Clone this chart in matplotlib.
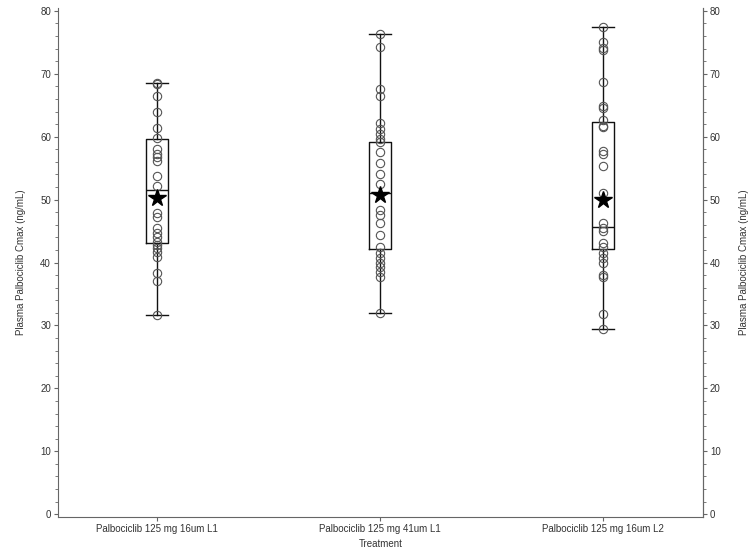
import matplotlib.pyplot as plt
from matplotlib.ticker import MultipleLocator

# ---------------------- Data --------------------------------------------------
treatments = [
    "Palbociclib 125 mg 16um L1",
    "Palbociclib 125 mg 41um L1",
    "Palbociclib 125 mg 16um L2",
]

cmax_16um_l1 = [68.6, 68.3, 66.5, 64.0, 61.4, 59.8, 58.1, 57.3, 56.8, 56.1,
                53.8, 52.2, 47.8, 47.3, 45.5, 44.7, 44.1, 43.3, 42.8, 42.3,
                41.7, 40.9, 38.3, 37.0, 31.6]
cmax_41um_l1 = [76.3, 74.3, 67.6, 66.4, 62.2, 61.2, 60.4, 59.7, 59.2, 57.5,
                55.8, 54.0, 52.4, 48.4, 47.6, 46.3, 44.4, 42.5, 41.5, 40.7,
                39.9, 39.3, 38.5, 37.7, 31.9]
cmax_16um_l2 = [77.5, 75.1, 74.1, 73.7, 68.7, 64.8, 64.5, 62.6, 61.7, 61.5,
                57.7, 57.3, 55.4, 51.0, 46.3, 45.5, 45.0, 43.1, 42.4, 41.5,
                40.7, 39.9, 38.0, 37.7, 31.8, 29.5]
cmax_values = [cmax_16um_l1, cmax_41um_l1, cmax_16um_l2]

q1_vals = [43.1, 42.2, 42.2]
median_vals = [51.6, 51.1, 45.6]
q3_vals = [59.7, 59.2, 62.4]
mean_vals = [50.3, 50.8, 49.9]

ylabel = "Plasma Palbociclib Cmax (ng/mL)"

# ---------------------- Figure ------------------------
plt.rcParams["font.family"] = ["Liberation Sans", "DejaVu Sans"]
axis_col = "#666666"
text_col = "#333333"

fig = plt.figure(figsize=(7.49, 5.54), dpi=100)
ax = fig.add_axes([0.0774, 0.0673, 0.8611, 0.9177])

positions = [1, 2, 3]
stats = []
for vals, q1, med, q3, mean in zip(cmax_values, q1_vals, median_vals, q3_vals, mean_vals):
    stats.append(
        {"whislo": min(vals), "q1": q1, "med": med, "q3": q3,
         "whishi": max(vals), "mean": mean, "fliers": []}
    )

ax.bxp(
    stats,
    positions=positions,
    widths=0.1,
    showmeans=False,
    showfliers=False,
    boxprops=dict(color="#111111", linewidth=1.0),
    whiskerprops=dict(color="#111111", linewidth=1.0),
    capprops=dict(color="#111111", linewidth=1.0),
    medianprops=dict(color="#111111", linewidth=1.0),
    capwidths=0.1,
)

# individual subject values
for pos, vals in zip(positions, cmax_values):
    ax.plot([pos] * len(vals), vals, linestyle="none", marker="o",
            markersize=6, markerfacecolor="none", markeredgecolor="#555555",
            markeredgewidth=0.8, zorder=3)

# mean
ax.plot(positions, mean_vals, linestyle="none", marker="*", markersize=13,
        color="black", zorder=4)

ax.set_xlim(0.556, 3.448)
ax.set_ylim(-0.4, 80.4)
ax.set_xticks(positions)
ax.set_xticklabels(treatments, fontsize=7, color=text_col)
ax.set_xlabel("Treatment", fontsize=7, color=text_col, labelpad=4)
ax.set_ylabel(ylabel, fontsize=7, color=text_col, labelpad=10)

ax.yaxis.set_major_locator(MultipleLocator(10))
ax.yaxis.set_minor_locator(MultipleLocator(2))

ax2 = ax.twinx()
ax2.set_ylim(ax.get_ylim())
ax2.yaxis.set_major_locator(MultipleLocator(10))
ax2.yaxis.set_minor_locator(MultipleLocator(2))
ax2.set_ylabel(ylabel, fontsize=7, color=text_col, rotation=90, labelpad=13)

for a in (ax, ax2):
    a.spines["top"].set_visible(False)
    for s in a.spines.values():
        s.set_color(axis_col)
        s.set_linewidth(0.8)
    a.tick_params(axis="both", which="major", length=3, width=0.8,
                  color=axis_col, labelsize=7, labelcolor=text_col, pad=2)
    a.tick_params(axis="y", which="minor", length=2, width=0.6, color=axis_col)
ax2.spines["left"].set_visible(False)
ax2.spines["bottom"].set_visible(False)

fig.savefig("out.png", dpi=100)
